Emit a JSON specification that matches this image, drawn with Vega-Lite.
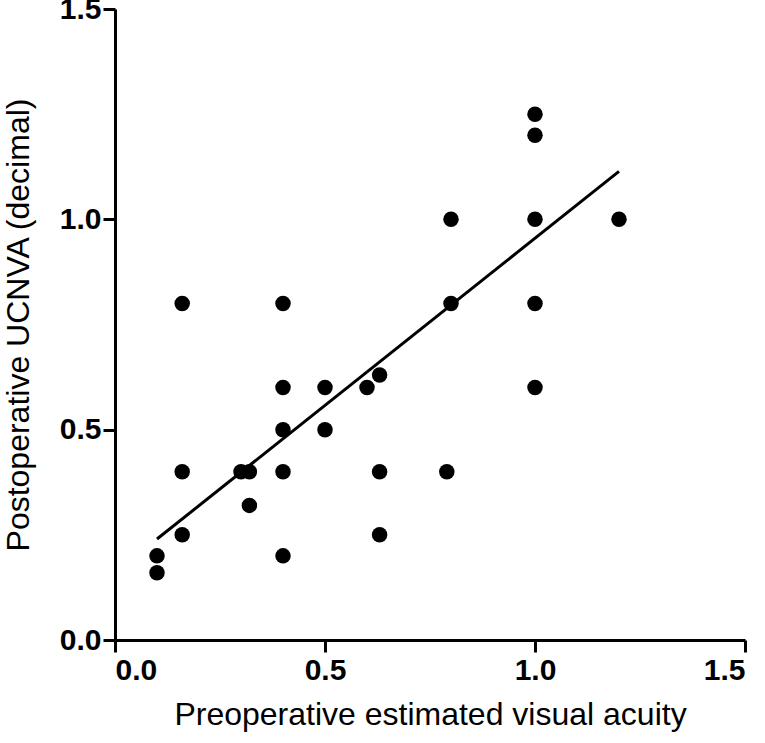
{
  "$schema": "https://vega.github.io/schema/vega-lite/v6.json",
  "width": 630,
  "height": 631,
  "autosize": {"type": "none"},
  "padding": {"left": 115, "top": 9, "right": 20, "bottom": 103},
  "background": "white",
  "config": {"view": {"stroke": null}, "font": "Liberation Sans"},
  "datasets": {
    "pts": [
      {"pre": 0.1, "post": 0.2}, {"pre": 0.1, "post": 0.16},
      {"pre": 0.16, "post": 0.8}, {"pre": 0.16, "post": 0.4}, {"pre": 0.16, "post": 0.25},
      {"pre": 0.3, "post": 0.4}, {"pre": 0.32, "post": 0.4}, {"pre": 0.32, "post": 0.32},
      {"pre": 0.4, "post": 0.8}, {"pre": 0.4, "post": 0.6}, {"pre": 0.4, "post": 0.5}, {"pre": 0.4, "post": 0.4}, {"pre": 0.4, "post": 0.2},
      {"pre": 0.5, "post": 0.6}, {"pre": 0.5, "post": 0.5},
      {"pre": 0.6, "post": 0.6}, {"pre": 0.63, "post": 0.63}, {"pre": 0.63, "post": 0.4}, {"pre": 0.63, "post": 0.25},
      {"pre": 0.79, "post": 0.4}, {"pre": 0.8, "post": 1.0}, {"pre": 0.8, "post": 0.8},
      {"pre": 1.0, "post": 1.25}, {"pre": 1.0, "post": 1.2}, {"pre": 1.0, "post": 1.0}, {"pre": 1.0, "post": 0.8}, {"pre": 1.0, "post": 0.6},
      {"pre": 1.2, "post": 1.0}
    ],
    "fit": [
      {"pre": 0.1, "post": 0.24}, {"pre": 1.2, "post": 1.114}
    ]
  },
  "layer": [
    {
      "data": {"name": "fit"},
      "mark": {"type": "line", "color": "black", "strokeWidth": 3},
      "encoding": {
        "x": {"field": "pre", "type": "quantitative"},
        "y": {"field": "post", "type": "quantitative"}
      }
    },
    {
      "data": {"name": "pts"},
      "mark": {"type": "circle", "color": "black", "opacity": 1, "size": 240},
      "encoding": {
        "x": {
          "field": "pre", "type": "quantitative",
          "scale": {"domain": [0, 1.5], "nice": false, "zero": false},
          "title": "Preoperative estimated visual acuity",
          "axis": {
            "values": [0, 0.5, 1.0, 1.5], "format": ".1f", "grid": false,
            "domainColor": "black", "domainWidth": 3, "tickColor": "black", "tickWidth": 3, "tickSize": 12,
            "labelFont": "Liberation Sans", "labelFontSize": 30, "labelFontWeight": "bold", "labelColor": "black", "labelPadding": 3,
            "titleFont": "Liberation Sans", "titleFontSize": 32, "titleFontWeight": "normal", "titleColor": "black", "titlePadding": 14
          }
        },
        "y": {
          "field": "post", "type": "quantitative",
          "scale": {"domain": [0, 1.5], "nice": false, "zero": false},
          "title": "Postoperative UCNVA (decimal)",
          "axis": {
            "values": [0, 0.5, 1.0, 1.5], "format": ".1f", "grid": false,
            "domainColor": "black", "domainWidth": 3, "tickColor": "black", "tickWidth": 3, "tickSize": 12,
            "labelFont": "Liberation Sans", "labelFontSize": 30, "labelFontWeight": "bold", "labelColor": "black", "labelPadding": 2,
            "titleFont": "Liberation Sans", "titleFontSize": 32, "titleFontWeight": "normal", "titleColor": "black", "titlePadding": 24
          }
        }
      }
    }
  ]
}
